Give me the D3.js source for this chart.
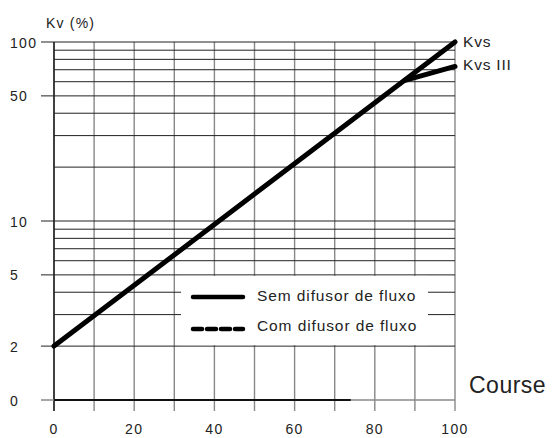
<!DOCTYPE html>
<html><head><meta charset="utf-8">
<script src="https://cdn.jsdelivr.net/npm/d3@7"></script>
<style>body{margin:0;background:#fff}svg{display:block}text{font-family:"Liberation Sans",Arial,sans-serif;fill:#222}</style>
</head><body><svg id="c" width="552" height="438"></svg>
<script>
const xTicks = [0, 20, 40, 60, 80, 100];
const xGrid = [0, 10, 20, 30, 40, 50, 60, 70, 80, 90, 100];
const yTickValues = [1, 2, 5, 10, 50, 100];
const yTickLabels = ["0", "2", "5", "10", "50", "100"];
const yGrid = [1, 2, 3, 4, 5, 6, 7, 8, 9, 10, 20, 30, 40, 50, 60, 70, 80, 90, 100];
const kvsX = [0, 100];
const kvsY = [2, 100];
const kvs3X = [87.5, 100];
const kvs3Y = [61, 73];
const baseX = [0, 74];
const legendLabels = ["Sem difusor de fluxo", "Com difusor de fluxo"];
const seriesLabels = ["Kvs", "Kvs III"];

const svg = d3.select("#c");
const x = d3.scaleLinear().domain([0, 100]).range([54, 455]);
const y = d3.scaleLog().domain([1, 100]).range([400, 42]);

// vertical grid
svg.append("g").selectAll("line").data(xGrid).join("line")
  .attr("x1", d => x(d)).attr("x2", d => x(d))
  .attr("y1", y(100)).attr("y2", y(1) + 11)
  .attr("stroke", d => d === 0 ? "#111" : "#888").attr("stroke-width", d => d === 0 ? 1.6 : 1.4);

// horizontal grid
svg.append("g").selectAll("line").data(yGrid).join("line")
  .attr("x1", d => yTickValues.includes(d) ? 41 : x(0)).attr("x2", x(100))
  .attr("y1", d => y(d)).attr("y2", d => y(d))
  .attr("stroke", d => d === 1 ? "#888" : "#222").attr("stroke-width", d => d === 1 ? 1.4 : 1);

// bottom black segment
svg.append("line").attr("x1", x(baseX[0])).attr("x2", x(baseX[1]))
  .attr("y1", y(1)).attr("y2", y(1)).attr("stroke", "#111").attr("stroke-width", 2);

// y tick labels
svg.append("g").selectAll("text").data(yTickValues).join("text")
  .attr("x", 10).attr("y", d => y(d) + 5.5)
  .attr("font-size", 14).attr("letter-spacing", 1.3)
  .text((d, i) => yTickLabels[i]);

// x tick labels
svg.append("g").selectAll("text").data(xTicks).join("text")
  .attr("x", d => x(d)).attr("y", 434).attr("text-anchor", "middle")
  .attr("font-size", 14).attr("letter-spacing", 1.3)
  .text(d => d);

svg.append("text").attr("x", 46).attr("y", 28).attr("font-size", 14).attr("letter-spacing", 1.2).text("Kv (%)");
svg.append("text").attr("x", 469).attr("y", 393).attr("font-size", 23).attr("letter-spacing", 0.5).text("Course");

// lines
const line = d3.line().x(d => x(d[0])).y(d => y(d[1]));
svg.append("path").attr("d", line(d3.zip(kvsX, kvsY)))
  .attr("fill", "none").attr("stroke", "#000").attr("stroke-width", 5).attr("stroke-linecap", "round");
svg.append("path").attr("d", line(d3.zip(kvs3X, kvs3Y)))
  .attr("fill", "none").attr("stroke", "#000").attr("stroke-width", 5).attr("stroke-linecap", "round");

svg.append("text").attr("x", 463).attr("y", 47).attr("font-size", 15.5).attr("letter-spacing", 0.8).text(seriesLabels[0]);
svg.append("text").attr("x", 463).attr("y", 69.5).attr("font-size", 15.5).attr("letter-spacing", 0.8).text(seriesLabels[1]);

// legend
const lg = svg.append("g");
lg.append("rect").attr("x", 181).attr("y", y(5) + 1).attr("width", 247).attr("height", y(2) - y(5) - 2).attr("fill", "#fff");
lg.append("line").attr("x1", 193).attr("x2", 243).attr("y1", 297).attr("y2", 297)
  .attr("stroke", "#000").attr("stroke-width", 4.5).attr("stroke-linecap", "round");
lg.append("line").attr("x1", 193).attr("x2", 243).attr("y1", 329).attr("y2", 329)
  .attr("stroke", "#000").attr("stroke-width", 4.5).attr("stroke-linecap", "round").attr("stroke-dasharray", "9,5");
lg.selectAll("text.l").data(legendLabels).join("text").attr("class", "l")
  .attr("x", 257).attr("y", (d, i) => 301 + i * 30)
  .attr("font-size", 15.5).attr("letter-spacing", 0.9).text(d => d);
</script></body></html>
